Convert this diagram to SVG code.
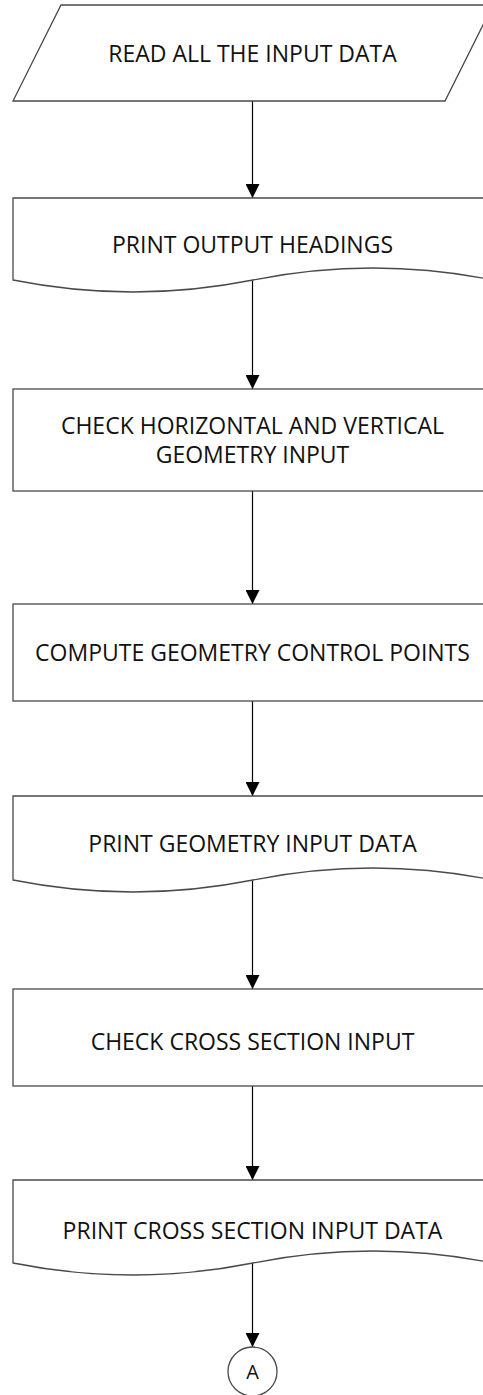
<svg xmlns="http://www.w3.org/2000/svg" width="483" height="1395" viewBox="0 0 483 1395">
<style>
.shape{fill:#ffffff;stroke:#4a4a4a;stroke-width:1.3}
.lbl{font-family:"Open Sans","Liberation Sans",sans-serif;font-size:23px;fill:#111111;text-anchor:middle}
.conn{stroke:#000000;stroke-width:1.2;fill:none;marker-end:url(#arr)}
</style>
<defs>
<marker id="arr" markerUnits="userSpaceOnUse" markerWidth="14" markerHeight="14" refX="14" refY="7" orient="auto">
<path d="M0,0 L14,7 L0,14 z" fill="#000000"/>
</marker>
</defs>
<rect x="0" y="0" width="483" height="1395" fill="#ffffff"/>
<g id="connectors">
<line class="conn" x1="252.5" y1="101" x2="252.5" y2="198"/>
<line class="conn" x1="252.5" y1="280" x2="252.5" y2="389"/>
<line class="conn" x1="252.5" y1="491" x2="252.5" y2="604"/>
<line class="conn" x1="252.5" y1="701" x2="252.5" y2="796"/>
<line class="conn" x1="252.5" y1="880" x2="252.5" y2="989"/>
<line class="conn" x1="252.5" y1="1086" x2="252.5" y2="1180"/>
<line class="conn" x1="252.5" y1="1263" x2="252.5" y2="1347"/>
</g>
<g id="n1">
<path class="shape" d="M61,5 L493,5 L445,101 L13,101 Z"/>
<text class="lbl" x="252.5" y="61.5">READ ALL THE INPUT DATA</text>
</g>
<g id="n2">
<path class="shape" d="M13,198 L493,198 L493,280 C413,264 333,264 253,280 C173,296 93,296 13,280 Z"/>
<text class="lbl" x="252.5" y="252.5">PRINT OUTPUT HEADINGS</text>
</g>
<g id="n3">
<rect class="shape" x="13" y="389" width="480" height="102"/>
<text class="lbl" x="252.5" y="434">CHECK HORIZONTAL AND VERTICAL</text>
<text class="lbl" x="252.5" y="463">GEOMETRY INPUT</text>
</g>
<g id="n4">
<rect class="shape" x="13" y="604" width="480" height="97"/>
<text class="lbl" x="252.5" y="660.5">COMPUTE GEOMETRY CONTROL POINTS</text>
</g>
<g id="n5">
<path class="shape" d="M13,796 L493,796 L493,880 C413,864 333,864 253,880 C173,896 93,896 13,880 Z"/>
<text class="lbl" x="252.5" y="852">PRINT GEOMETRY INPUT DATA</text>
</g>
<g id="n6">
<rect class="shape" x="13" y="989" width="480" height="97"/>
<text class="lbl" x="252.5" y="1049.5">CHECK CROSS SECTION INPUT</text>
</g>
<g id="n7">
<path class="shape" d="M13,1180 L493,1180 L493,1263 C413,1247 333,1247 253,1263 C173,1279 93,1279 13,1263 Z"/>
<text class="lbl" x="252.5" y="1238.5">PRINT CROSS SECTION INPUT DATA</text>
</g>
<g id="n8">
<circle class="shape" cx="252.5" cy="1371.5" r="24.5"/>
<text class="lbl" x="252.5" y="1379" style="font-size:20px">A</text>
</g>
</svg>
